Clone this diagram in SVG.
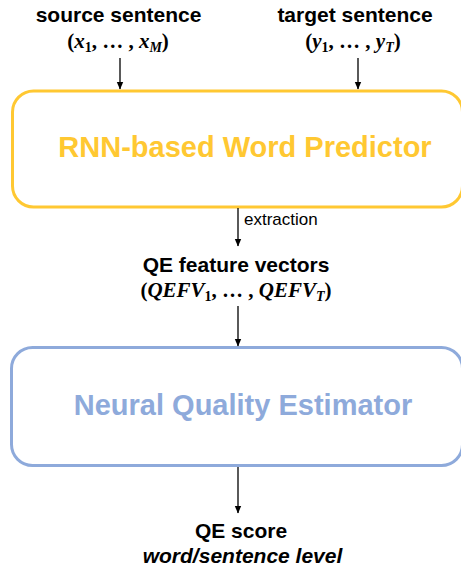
<svg xmlns="http://www.w3.org/2000/svg" width="461" height="569" viewBox="0 0 461 569">
<defs>
<marker id="ah" markerWidth="8" markerHeight="8" refX="7" refY="4" orient="auto" markerUnits="userSpaceOnUse">
<path d="M0,0.8 L7.5,4 L0,7.2 Z" fill="#000"/>
</marker>
<style>
.lbl{font-family:"Liberation Sans",Arial,sans-serif;font-weight:bold;font-size:21px;fill:#000;text-anchor:middle}
.math{font-family:"Liberation Serif","Times New Roman",serif;font-weight:bold;font-style:italic;font-size:21px;fill:#000;text-anchor:middle}
.up{font-style:normal}
.sub{font-style:normal;font-size:14px}
.subi{font-style:italic;font-size:14px}
.title{font-family:"Liberation Sans",Arial,sans-serif;font-weight:bold;font-size:29px;text-anchor:middle}
.conn{stroke:#000;stroke-width:1.3;fill:none;marker-end:url(#ah)}
</style>
</defs>
<rect width="461" height="569" fill="#fff"/>
<g id="source">
<text class="lbl" x="118.5" y="22">source sentence</text>
<text class="math" x="118" y="48"><tspan class="up">(</tspan>x<tspan class="sub" dy="4">1</tspan><tspan class="up" dy="-4">, … , </tspan>x<tspan class="subi" dy="4">M</tspan><tspan class="up" dy="-4">)</tspan></text>
</g>
<g id="target">
<text class="lbl" x="355" y="22">target sentence</text>
<text class="math" x="353" y="48"><tspan class="up">(</tspan>y<tspan class="sub" dy="4">1</tspan><tspan class="up" dy="-4">, … , </tspan>y<tspan class="subi" dy="4">T</tspan><tspan class="up" dy="-4">)</tspan></text>
</g>
<g id="predictor">
<rect x="12.5" y="91" width="450" height="116" rx="21" fill="#fff" stroke="#FFC832" stroke-width="3"/>
<text class="title" x="245" y="157" fill="#FFC832">RNN-based Word Predictor</text>
</g>
<g id="features">
<text class="lbl" x="236" y="272">QE feature vectors</text>
<text class="math" x="236" y="297"><tspan class="up">(</tspan>QEFV<tspan class="sub" dy="4">1</tspan><tspan class="up" dy="-4">, … , </tspan>QEFV<tspan class="subi" dy="4">T</tspan><tspan class="up" dy="-4">)</tspan></text>
</g>
<g id="estimator">
<rect x="11.5" y="347.5" width="451" height="118" rx="21" fill="#fff" stroke="#8EAADB" stroke-width="3"/>
<text class="title" x="243" y="415" fill="#8EAADB">Neural Quality Estimator</text>
</g>
<g id="score">
<text class="lbl" x="241" y="538">QE score</text>
<text class="lbl" x="242.5" y="563" font-style="italic" font-size="20">word/sentence level</text>
</g>
<g id="connectors">
<line class="conn" x1="120" y1="58" x2="120" y2="89"/>
<line class="conn" x1="358" y1="58" x2="358" y2="89"/>
<line class="conn" x1="238" y1="208" x2="238" y2="246"/>
<line class="conn" x1="238" y1="306" x2="238" y2="346"/>
<line class="conn" x1="238" y1="467" x2="238" y2="513"/>
<text x="244" y="225" font-family="Liberation Sans,Arial,sans-serif" font-size="17" fill="#000">extraction</text>
</g>
</svg>
